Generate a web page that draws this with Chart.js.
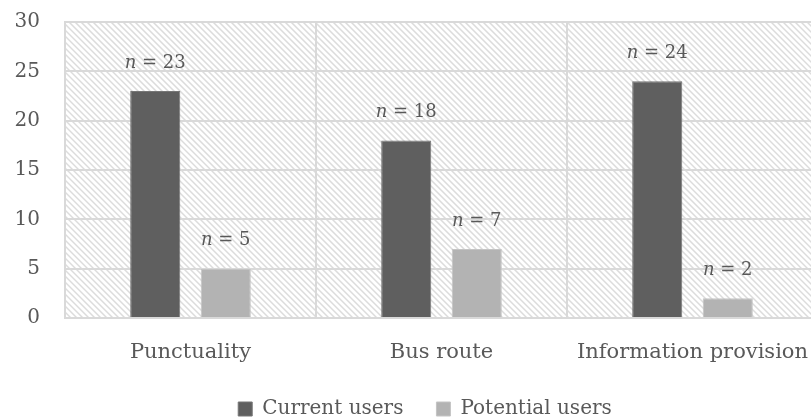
<!DOCTYPE html>
<html>
<head>
<meta charset="utf-8">
<script src="https://cdn.jsdelivr.net/npm/chart.js"></script>
<style>
  html, body { margin: 0; padding: 0; background: #fff; overflow: hidden; }
  #chart { position: absolute; left: 0; top: 0; }
</style>
</head>
<body>
<canvas id="chart" width="850" height="429"></canvas>
<script>
const categories = ['Punctuality', 'Bus route', 'Information provision'];
const currentUsers = [23, 18, 24];
const potentialUsers = [5, 7, 2];
const yTicks = [0, 5, 10, 15, 20, 25, 30];

const FONT = '"Palatino Linotype", "Book Antiqua", Palatino, "DejaVu Serif", serif';
const TEXT = '#595959';

// diagonal hatch behind the plot area
const hatchBackground = {
  id: 'hatchBackground',
  beforeDraw(chart) {
    const { ctx, chartArea: a } = chart;
    ctx.save();
    ctx.beginPath();
    ctx.rect(a.left, a.top, a.right - a.left, a.bottom - a.top);
    ctx.clip();
    ctx.strokeStyle = '#dcdcdc';
    ctx.lineWidth = 1.5;
    const h = a.bottom - a.top;
    for (let x = a.left - h; x < a.right + 10; x += 6) {
      ctx.beginPath();
      ctx.moveTo(x, a.top);
      ctx.lineTo(x + h, a.bottom);
      ctx.stroke();
    }
    ctx.restore();
  }
};

// center the legend on the full canvas width instead of the padded box
const legendShift = {
  id: 'legendShift',
  afterLayout(chart) {
    if (chart.legend) {
      chart.legend.left += 16;
      chart.legend.right += 16;
    }
  }
};

// "n = value" labels above the bars
const countLabels = {
  id: 'countLabels',
  afterDatasetsDraw(chart) {
    const ctx = chart.ctx;
    const italic = 'italic 18px ' + FONT;
    const plain = '18px ' + FONT;
    ctx.save();
    ctx.fillStyle = TEXT;
    ctx.textBaseline = 'middle';
    ctx.textAlign = 'left';
    chart.data.datasets.forEach((ds, di) => {
      chart.getDatasetMeta(di).data.forEach((bar, i) => {
        const rest = ' = ' + ds.data[i];
        ctx.font = italic;
        const w1 = ctx.measureText('n').width;
        ctx.font = plain;
        const w2 = ctx.measureText(rest).width;
        const x0 = bar.x - (w1 + w2) / 2;
        const y = bar.y - 28;
        ctx.font = italic;
        ctx.fillText('n', x0, y);
        ctx.font = plain;
        ctx.fillText(rest, x0 + w1, y);
      });
    });
    ctx.restore();
  }
};

new Chart(document.getElementById('chart'), {
  type: 'bar',
  data: {
    labels: categories,
    datasets: [
      {
        label: 'Current users',
        data: currentUsers,
        backgroundColor: '#5f5f5f',
        borderColor: '#767676',
        borderWidth: 1
      },
      {
        label: 'Potential users',
        data: potentialUsers,
        backgroundColor: '#b3b3b3',
        borderColor: '#c4c4c4',
        borderWidth: 1
      }
    ]
  },
  options: {
    responsive: false,
    animation: false,
    layout: { padding: { top: 22, right: 32, left: 0, bottom: 0 } },
    datasets: {
      bar: { barPercentage: 0.71, categoryPercentage: 0.562 }
    },
    scales: {
      x: {
        afterFit(scale) { scale.height = 48; },
        grid: { color: '#d9d9d9', lineWidth: 2, drawTicks: false },
        border: { color: '#d9d9d9', width: 2 },
        ticks: { color: TEXT, padding: 22, font: { family: FONT, size: 21 }, maxRotation: 0 }
      },
      y: {
        min: 0,
        max: 30,
        afterBuildTicks(scale) {
          scale.ticks = yTicks.map(v => ({ value: v }));
        },
        afterFit(scale) {
          scale.width = 65;
          scale.paddingTop = 0;
          scale.paddingBottom = 0;
        },
        grid: { color: '#d9d9d9', lineWidth: 2, drawTicks: false },
        border: { color: '#d9d9d9', width: 2 },
        ticks: { color: TEXT, padding: 25, font: { family: FONT, size: 20 } }
      }
    },
    plugins: {
      legend: {
        position: 'bottom',
        labels: {
          color: TEXT,
          font: { family: FONT, size: 20 },
          boxWidth: 14,
          boxHeight: 14,
          padding: 33
        }
      },
      tooltip: { enabled: false }
    }
  },
  plugins: [hatchBackground, legendShift, countLabels]
});
</script>
</body>
</html>
